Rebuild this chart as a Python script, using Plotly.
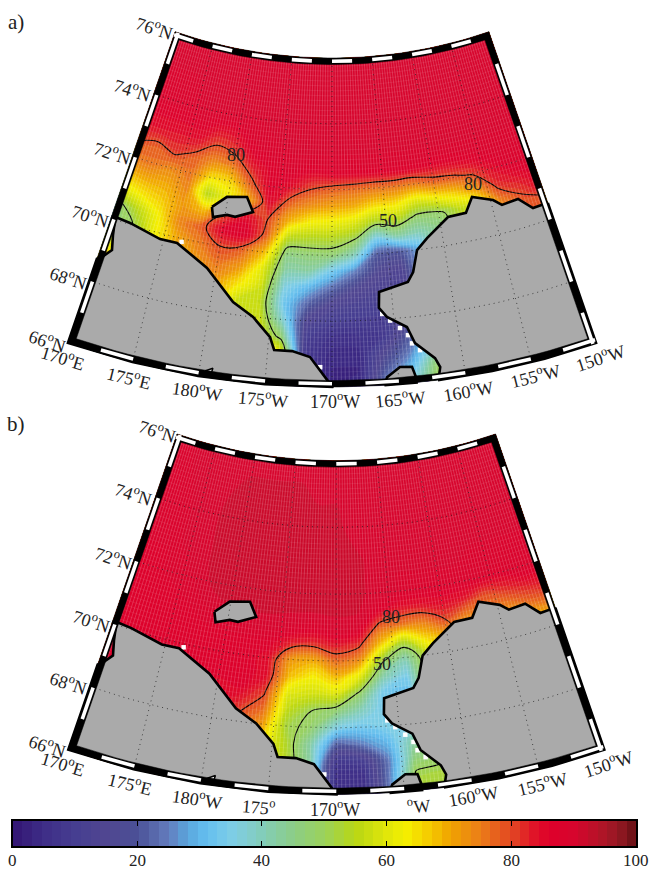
import math
import numpy as np
import plotly.graph_objects as go

# ---------- data ----------
LON = [-190 + 2 * i for i in range(21)]
LAT_DESC = [76, 74, 73, 72.5, 72, 71.5, 71, 70.5, 70, 69.5, 69, 68.5, 68, 67.5, 67, 66.5, 66]

# one line per longitude, values in the LAT_DESC order
SIC_A = [
    [90, 88, 84, 80, 75, 68, 60, 47, 47, 60, 72, 72, 60, 50, 45, 45, 45],
    [90, 88, 84, 78, 76, 70, 64, 55, 50, 52, 52, 52, 50, 50, 50, 50, 50],
    [90, 88, 84, 81, 74, 70, 67, 63, 62, 62, 62, 62, 62, 62, 62, 62, 62],
    [90, 89, 84, 78, 76, 74, 72, 74, 70, 70, 70, 70, 70, 70, 70, 70, 70],
    [90, 89, 80, 74, 65, 55, 68, 78, 75, 72, 72, 72, 72, 72, 72, 72, 72],
    [90, 89, 82, 76, 66, 62, 80, 86, 80, 76, 72, 70, 70, 70, 70, 70, 70],
    [90, 89, 87, 83, 78, 70, 85, 88, 78, 72, 65, 58, 55, 55, 55, 55, 55],
    [90, 90, 88, 87, 87, 85, 80, 78, 68, 60, 58, 56, 58, 60, 60, 60, 60],
    [90, 90, 89, 88, 84, 77, 69, 56, 46, 42, 36, 33, 38, 47, 60, 60, 60],
    [90, 90, 89, 86, 80, 73, 63, 54, 47, 42, 30, 22, 14, 10, 8, 8, 8],
    [90, 90, 89, 87, 78, 71, 62, 54, 47, 33, 23, 14, 10, 6, 4, 3, 3],
    [90, 90, 89, 87, 77, 70, 60, 51, 40, 25, 16, 12, 9, 6, 4, 3, 4],
    [90, 90, 89, 87, 76, 66, 54, 36, 21, 16, 13, 11, 9, 8, 15, 20, 25],
    [90, 90, 89, 87, 76, 65, 55, 42, 20, 14, 12, 12, 15, 20, 24, 30, 35],
    [90, 90, 89, 87, 75, 60, 48, 40, 30, 30, 30, 30, 30, 35, 40, 48, 50],
    [90, 90, 89, 86, 78, 63, 48, 45, 45, 45, 45, 45, 45, 45, 48, 50, 50],
    [90, 90, 89, 86, 79, 66, 55, 55, 55, 55, 55, 55, 55, 55, 55, 55, 55],
    [90, 90, 89, 87, 81, 72, 60, 60, 60, 60, 60, 60, 60, 60, 60, 60, 60],
    [90, 90, 89, 88, 85, 82, 75, 72, 70, 70, 70, 70, 70, 70, 70, 70, 70],
    [90, 90, 89, 88, 88, 84, 80, 78, 75, 75, 75, 75, 75, 75, 75, 75, 75],
    [90, 90, 89, 88, 88, 86, 84, 76, 75, 75, 75, 75, 75, 75, 75, 75, 75],
]
SIC_B = [
    [89, 88, 88, 87, 87, 87, 87, 87, 87, 87, 87, 87, 87, 87, 87, 87, 87],
    [89, 88, 88, 87, 87, 87, 87, 87, 87, 87, 87, 87, 87, 87, 87, 87, 87],
    [90, 89, 89, 88, 88, 87, 87, 87, 87, 87, 87, 87, 87, 87, 87, 87, 87],
    [90, 90, 90, 90, 89, 88, 87, 87, 87, 87, 87, 87, 87, 87, 87, 87, 87],
    [90, 91, 91, 91, 91, 90, 88, 87, 87, 87, 87, 87, 87, 87, 87, 87, 87],
    [90, 92, 92, 92, 92, 91, 89, 87, 87, 87, 85, 85, 85, 85, 85, 85, 85],
    [90, 92, 92, 92, 92, 91, 90, 87, 87, 87, 86, 82, 78, 75, 75, 75, 75],
    [90, 92, 92, 92, 92, 91, 90, 87, 85, 85, 81, 77, 72, 65, 60, 60, 60],
    [90, 92, 92, 92, 92, 91, 89, 83, 72, 68, 60, 56, 52, 54, 55, 55, 55],
    [90, 91, 92, 92, 92, 91, 88, 82, 70, 63, 58, 50, 48, 42, 42, 40, 40],
    [90, 91, 92, 92, 92, 91, 90, 84, 77, 68, 59, 47, 36, 22, 9, 5, 5],
    [90, 90, 91, 91, 91, 91, 89, 82, 73, 60, 48, 40, 33, 25, 10, 5, 6],
    [90, 90, 90, 90, 90, 87, 78, 68, 52, 42, 33, 33, 35, 30, 25, 25, 25],
    [90, 90, 90, 89, 89, 84, 76, 55, 42, 35, 32, 33, 35, 42, 46, 51, 53],
    [90, 90, 90, 89, 88, 84, 75, 65, 55, 55, 55, 50, 45, 45, 48, 52, 53],
    [90, 90, 90, 89, 88, 85, 80, 70, 65, 65, 65, 65, 65, 65, 65, 65, 65],
    [90, 90, 90, 89, 88, 84, 75, 70, 70, 70, 70, 70, 70, 70, 70, 70, 70],
    [90, 90, 89, 88, 88, 80, 75, 75, 75, 75, 75, 75, 75, 75, 75, 75, 75],
    [90, 90, 89, 88, 87, 82, 75, 75, 75, 75, 75, 75, 75, 75, 75, 75, 75],
    [90, 90, 89, 89, 89, 84, 78, 70, 70, 70, 70, 70, 70, 70, 70, 70, 70],
    [90, 90, 89, 88, 88, 85, 80, 72, 68, 68, 68, 68, 68, 68, 68, 68, 68],
]

SIBERIA = [(-190, 70.05), (-189.4, 70.08), (-188.25, 70.05), (-185.3, 69.83), (-183.77, 69.84),
           (-180.78, 69.28), (-178.17, 68.38), (-176.4, 68.0), (-174.9, 67.44), (-174.5, 67.06),
           (-173.1, 67.06), (-171.7, 66.9), (-170.3, 66.18), (-169.9, 66.0), (-175, 66.0),
           (-180, 66.0), (-185, 66.0), (-190, 66.0), (-190, 68.7), (-189.65, 68.8),
           (-189.03, 69.1), (-189.35, 69.54), (-189.6, 70.0)]
ALASKA = [(-150, 70.5), (-150.5, 70.49), (-151.43, 70.49), (-152.5, 70.89), (-154.08, 70.85),
          (-154.77, 71.06), (-156.63, 71.3), (-157.5, 70.87), (-159.2, 70.85), (-161.4, 70.32),
          (-162.43, 70.0), (-163.0, 69.35), (-163.54, 69.07), (-166.04, 68.84), (-166.14, 68.36),
          (-165.54, 68.07), (-164.0, 67.71), (-163.5, 67.2), (-162.1, 66.67), (-161.8, 66.38),
          (-162.0, 66.09), (-162.0, 66.0), (-158, 66.0), (-154, 66.0), (-150, 66.0)]
WRANGEL = [(-181.34, 71.13), (-180.1, 71.51), (-178.2, 71.6), (-177.45, 71.17), (-179.05, 70.95),
           (-179.82, 70.97), (-181.07, 70.83)]
CAPE = [(-166.1, 66.0), (-165.86, 66.24), (-164.83, 66.52), (-163.92, 66.49), (-163.7, 66.17), (-163.7, 66.0)]
ISLET = [(-179.56, 66.18), (-179.0, 66.3), (-179.06, 66.16)]
# cells without data next to the coast
GAP_LON = [-165.9, -165.3, -164.56, -163.98, -163.73, -163.17, -170.9, -183.4]
GAP_LAT = [68.17, 67.95, 67.7, 67.46, 67.2, 66.97, 66.6, 69.9]

GRID_LON = [-185, -180, -175, -170, -165, -160, -155]
GRID_LAT = [68, 70, 72, 74]

CB_TICKS = [0, 20, 40, 60, 80, 100]
CB_MARKS = [20, 40, 60, 80]
CB_STOPS = [0, 5, 10, 15, 20, 25, 28, 31, 35, 38, 40, 45, 50, 55, 60, 63, 67, 70, 75, 78, 80, 83, 86, 90, 94, 97, 100]
CB_RGB = [(50, 20, 115), (62, 45, 135), (70, 62, 145), (80, 70, 145), (75, 80, 150), (100, 125, 190),
          (90, 165, 220), (100, 190, 240), (125, 205, 230), (130, 205, 205), (130, 205, 185), (140, 205, 135),
          (155, 210, 90), (185, 215, 20), (225, 230, 10), (245, 240, 0), (245, 200, 0), (240, 165, 0),
          (235, 125, 25), (230, 90, 30), (225, 70, 35), (225, 25, 40), (222, 0, 42), (215, 5, 45),
          (180, 20, 40), (150, 25, 35), (100, 15, 20)]
N_LEVELS = 64

LAT_LABELS = ["76", "74", "72", "70", "68", "66"]
LON_A = ["170<sup>o</sup>E", "175<sup>o</sup>E", "180<sup>o</sup>W", "175<sup>o</sup>W", "170<sup>o</sup>W",
         "165<sup>o</sup>W", "160<sup>o</sup>W", "155<sup>o</sup>W", "150<sup>o</sup>W"]
LON_B = ["170<sup>o</sup>E", "175<sup>o</sup>E", "180<sup>o</sup>W", "175<sup>o</sup>", "170<sup>o</sup>W",
         "<sup>o</sup>W", "160<sup>o</sup>W", "155<sup>o</sup>W", "150<sup>o</sup>W"]

# ---------- layout constants ----------
PANELS = {
    "a": dict(x0=332.0, y0=-424.0, s=1.0, sic=SIC_A, letter=(16, 22), line_cut=None,
              latpos=[(154, 27), (132, 89), (112, 152), (90, 215), (68, 277), (47, 340)],
              lonpos=[(63, 357), (129, 377), (197, 390), (263, 398), (335, 400), (400, 398), (468, 390), (535, 375), (600, 357)],
              lonlab=LON_A,
              clabels=[("80", 236, 155), ("80", 473, 184), ("50", 388, 221)]),
    "b": dict(x0=336.3, y0=-28.6, s=1.015, sic=SIC_B, letter=(16, 424), line_cut=-158,
              latpos=[(157, 430), (133, 493), (113, 557), (91, 620), (68, 682), (47, 745)],
              lonpos=[(63, 763), (130, 783), (197, 798), (258, 806), (335, 808), (418, 805), (473, 795), (542, 783), (608, 763)],
              lonlab=LON_B,
              clabels=[("80", 391, 617), ("50", 382, 664)]),
}
LON_ROT = [17, 14, 8, 5, 0, -5, -10, -14, -18]
N_CONE = 0.95
SERIF = "Liberation Serif"
INK = "#222222"
BAND = 6.5


def radius(lat):
    return 482.0 + 32.9 * (76.0 - np.asarray(lat, float))


def proj(lon, lat, p):
    th = np.radians(N_CONE * (np.asarray(lon, float) + 170.0))
    r = radius(lat)
    return p["x0"] + p["s"] * r * np.sin(th), p["y0"] + p["s"] * r * np.cos(th)


fig = go.Figure()

stops = [s / 100 for s in CB_STOPS]
cscale = [[s, "rgb(%d,%d,%d)" % c] for s, c in zip(stops, CB_RGB)]
lat_asc = np.array(LAT_DESC[::-1], float)
lon_arr = np.array(LON, float)
step = 100.0 / N_LEVELS


def poly(fig, pts, p, fill, lw=2.6, lc="black"):
    xs, ys = [], []
    for lo, la in pts:
        x, y = proj(lo, la, p)
        xs.append(float(x)); ys.append(float(y))
    xs.append(xs[0]); ys.append(ys[0])
    fig.add_trace(go.Scatter(x=xs, y=ys, mode="lines", fill="toself", fillcolor=fill,
                             line=dict(color=lc, width=lw), hoverinfo="skip", showlegend=False))


def frame(fig, p):
    s = p["s"]
    x0, y0 = p["x0"], p["y0"]
    tm = math.radians(N_CONE * 20)
    rt, rb = float(radius(76)) * s, float(radius(66)) * s
    w = BAND

    def arc(r, t1, t2, n=40):
        t = np.linspace(t1, t2, n)
        return list(x0 + r * np.sin(t)), list(y0 + r * np.cos(t))

    dt = math.asin(w / (rt + w)); db = math.asin(w / (rb - w))
    xs, ys = [], []
    a = arc(rt, -tm, tm); b = arc(rt + w, tm - dt, -tm + dt)
    xs += a[0] + b[0] + [None]; ys += a[1] + b[1] + [None]
    a = arc(rb, -tm, tm); b = arc(rb - w, tm - db, -tm + db)
    xs += a[0] + b[0] + [None]; ys += a[1] + b[1] + [None]
    for sg in (-1, 1):
        t = sg * tm
        t_i = sg * (tm - dt)
        b_i = sg * (tm - db)
        xs += [x0 + rt * math.sin(t), x0 + rb * math.sin(t), x0 + (rb - w) * math.sin(b_i), x0 + (rt + w) * math.sin(t_i), None]
        ys += [y0 + rt * math.cos(t), y0 + rb * math.cos(t), y0 + (rb - w) * math.cos(b_i), y0 + (rt + w) * math.cos(t_i), None]
    fig.add_trace(go.Scatter(x=xs, y=ys, mode="lines", fill="toself", fillcolor="black",
                             line=dict(color="black", width=0.5), hoverinfo="skip", showlegend=False))
    wx, wy = [], []
    rm = rt + w / 2
    for i in range(0, 16, 2):
        t1 = math.radians(N_CONE * (-20 + 2.5 * i)); t2 = math.radians(N_CONE * (-20 + 2.5 * (i + 1)))
        a = arc(rm, t1, t2, 6)
        wx += a[0] + [None]; wy += a[1] + [None]
    rm = rb - w / 2
    for i in range(1, 16, 2):
        t1 = math.radians(N_CONE * (-20 + 2.5 * i)); t2 = math.radians(N_CONE * (-20 + 2.5 * (i + 1)))
        a = arc(rm, t1, t2, 6)
        wx += a[0] + [None]; wy += a[1] + [None]
    for sg, first in ((-1, 76), (1, 75)):
        t = sg * tm
        nx, ny = -sg * math.cos(tm) * w / 2, math.sin(tm) * w / 2
        for la in range(first, 66, -2):
            r1, r2 = float(radius(la)) * s, float(radius(la - 1)) * s
            wx += [x0 + r1 * math.sin(t) + nx, x0 + r2 * math.sin(t) + nx, None]
            wy += [y0 + r1 * math.cos(t) + ny, y0 + r2 * math.cos(t) + ny, None]
    fig.add_trace(go.Scatter(x=wx, y=wy, mode="lines", line=dict(color="white", width=3.6),
                             hoverinfo="skip", showlegend=False))


annotations = []


def note(text, x, y, size=18, rot=0):
    annotations.append(dict(text=text, x=x, y=y, xref="x", yref="y", showarrow=False, textangle=rot,
                            xanchor="center", yanchor="middle",
                            font=dict(family=SERIF, size=size, color=INK)))


for key, p in PANELS.items():
    z = np.array(p["sic"], float).T[::-1]  # rows: ascending lat, cols: lon
    LL, AA = np.meshgrid(lon_arr, lat_asc)
    X, Y = proj(LL, AA, p)
    cid = "c" + key
    hidden = dict(showgrid=False, minorgridcount=0, showticklabels="none", showline=False,
                  startline=False, endline=False)
    fig.add_trace(go.Carpet(carpet=cid, a=lon_arr.tolist(), b=lat_asc.tolist(), x=X.tolist(), y=Y.tolist(),
                            aaxis=hidden, baxis=hidden, xaxis="x", yaxis="y"))
    fig.add_trace(go.Contourcarpet(carpet=cid, a=lon_arr.tolist(), b=lat_asc.tolist(), z=z.tolist(),
                                   colorscale=cscale, zmin=0, zmax=100, showscale=False, autocontour=False,
                                   contours=dict(coloring="fill", start=0, end=100, size=step),
                                   line=dict(width=0), xaxis="x", yaxis="y"))
    # fine cell texture of the gridded field
    tx, ty = [], []
    for lo in np.arange(-190, -150, 0.3):
        x, y = proj(np.array([lo, lo]), np.array([66.0, 76.0]), p)
        tx += x.tolist() + [None]; ty += y.tolist() + [None]
    fig.add_trace(go.Scatter(x=tx, y=ty, mode="lines", line=dict(color="rgba(255,255,255,0.18)", width=1),
                             hoverinfo="skip", showlegend=False))
    tx, ty = [], []
    arc_lon = np.linspace(-190, -150, 30)
    for la in np.arange(66, 76, 0.15):
        x, y = proj(arc_lon, np.full_like(arc_lon, la), p)
        tx += x.tolist() + [None]; ty += y.tolist() + [None]
    fig.add_trace(go.Scatter(x=tx, y=ty, mode="lines", line=dict(color="rgba(255,255,255,0.08)", width=1),
                             hoverinfo="skip", showlegend=False))
    z_line = z.copy()
    if p["line_cut"] is not None:  # the reference draws no contour line east of this meridian
        z_line[:, lon_arr >= p["line_cut"]] = 90.0
    fig.add_trace(go.Contourcarpet(carpet=cid, a=lon_arr.tolist(), b=lat_asc.tolist(), z=z_line.tolist(),
                                   autocontour=False, showscale=False,
                                   contours=dict(coloring="lines", start=50, end=80, size=30),
                                   colorscale=[[0, "black"], [1, "black"]],
                                   line=dict(width=1.1, color="black"), xaxis="x", yaxis="y"))
    gx_, gy_ = proj(np.array(GAP_LON), np.array(GAP_LAT), p)
    fig.add_trace(go.Scatter(x=gx_, y=gy_, mode="markers", marker=dict(symbol="square", size=4.5, color="white"),
                             hoverinfo="skip", showlegend=False))
    for land in (SIBERIA, ALASKA, WRANGEL, CAPE):
        poly(fig, land, p, "#aaaaaa")
    poly(fig, ISLET, p, "white", lw=1.5)
    # graticule
    gx, gy = [], []
    fine_lat = np.linspace(66, 76, 30)
    for lo in GRID_LON:
        x, y = proj(np.full_like(fine_lat, lo), fine_lat, p)
        gx += x.tolist() + [None]; gy += y.tolist() + [None]
    fine_lon = np.linspace(-190, -150, 60)
    for la in GRID_LAT:
        x, y = proj(fine_lon, np.full_like(fine_lon, la), p)
        gx += x.tolist() + [None]; gy += y.tolist() + [None]
    fig.add_trace(go.Scatter(x=gx, y=gy, mode="lines", line=dict(color="rgba(30,30,30,0.75)", width=1, dash="1px,4px"),
                             hoverinfo="skip", showlegend=False))
    frame(fig, p)
    for lab, (x, y) in zip(LAT_LABELS, p["latpos"]):
        note(lab + "<sup>o</sup>N", x, y, 18, 18)
    for lab, (x, y), rot in zip(p["lonlab"], p["lonpos"], LON_ROT):
        note(lab, x, y, 18, rot)
    for lab, x, y in p["clabels"]:
        note(lab, x, y, 18)
    note(key + ")", p["letter"][0], p["letter"][1], 21)

# colour bar
mids = [(i + 0.5) * step for i in range(N_LEVELS)]
fig.add_trace(go.Heatmap(x=mids, y=[0, 1], z=[mids, mids], colorscale=cscale, zmin=0, zmax=100,
                         showscale=False, hoverinfo="skip", xaxis="x2", yaxis="y2"))
for v in CB_TICKS:
    annotations.append(dict(text=str(v), x=v, y=10.0 / 870, xref="x2", yref="paper", showarrow=False,
                            xanchor="center", yanchor="middle", font=dict(family=SERIF, size=17, color=INK)))

fig.update_layout(
    width=649, height=870, margin=dict(l=0, r=0, t=0, b=0, autoexpand=False), paper_bgcolor="white", plot_bgcolor="rgba(0,0,0,0)",
    showlegend=False, annotations=annotations,
    xaxis=dict(range=[0, 649], domain=[0, 1], visible=False, fixedrange=True),
    yaxis=dict(range=[870, 0], domain=[0, 1], visible=False, fixedrange=True),
    xaxis2=dict(domain=[12.5 / 649, 636 / 649], range=[0, 100], anchor="y2", tickvals=CB_MARKS, ticks="inside",
                ticklen=5, tickwidth=1, tickcolor="black", showticklabels=False, showline=True, linecolor="black",
                linewidth=1.5, mirror="ticks", showgrid=False, zeroline=False, fixedrange=True),
    yaxis2=dict(domain=[(870 - 846) / 870, (870 - 821) / 870], range=[0, 1], anchor="x2", tickvals=[],
                showline=True, linecolor="black", linewidth=1.5, mirror=True, showgrid=False, zeroline=False, fixedrange=True),
)
fig.write_html("out.html", post_script="document.body.style.margin='0';", config={"displayModeBar": False})
